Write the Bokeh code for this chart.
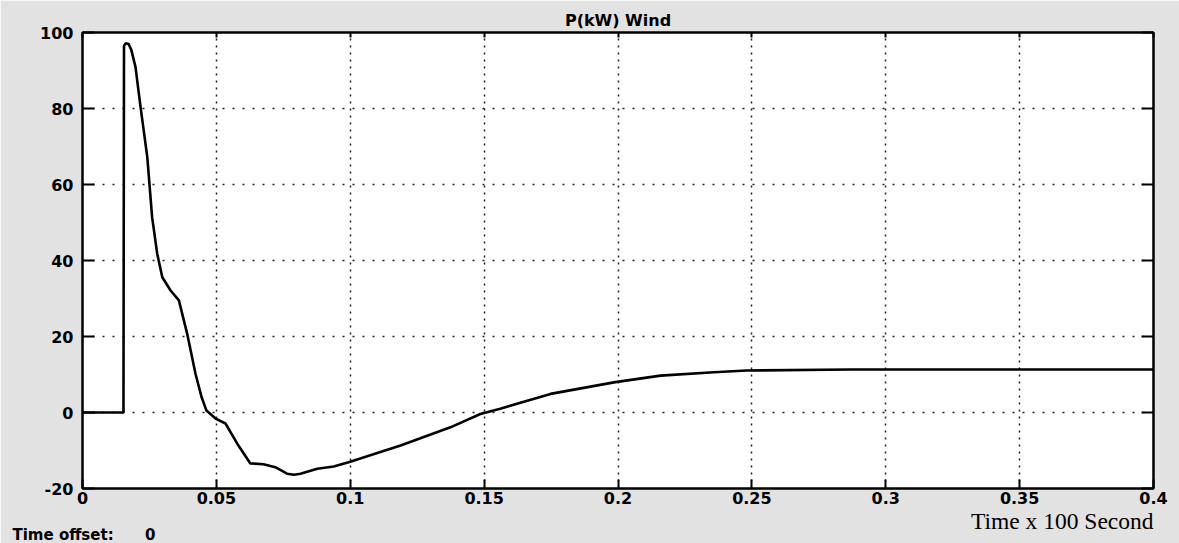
from bokeh.plotting import figure
from bokeh.models import LinearAxis, FixedTicker, Range1d, Title, Grid
from bokeh.embed import file_html
from bokeh.resources import INLINE

# ---- data ----
time_vals = [0, 0.0153, 0.0155, 0.0162, 0.0172, 0.0182, 0.0198, 0.0217, 0.0242, 0.0260,
             0.0279, 0.0298, 0.0329, 0.0360, 0.0391, 0.0422, 0.0445, 0.0463, 0.0497, 0.0534,
             0.0578, 0.0627, 0.0676, 0.0720, 0.0764, 0.0790, 0.0814, 0.0877, 0.0938, 0.0994,
             0.1188, 0.1374, 0.1486, 0.1560, 0.1748, 0.1990, 0.2159, 0.2358, 0.2480, 0.2870,
             0.3500, 0.4000]
power_kw = [0, 0, 96.5, 97.2, 97.0, 95.5, 90.9, 80.3, 67.2, 51.4,
            41.8, 35.6, 32.1, 29.5, 20.7, 10.2, 4.0, 0.5, -1.6, -2.9,
            -8.2, -13.4, -13.6, -14.4, -16.1, -16.4, -16.1, -14.8, -14.2, -13.1,
            -8.7, -3.9, -0.4, 1.0, 4.9, 8.0, 9.7, 10.6, 11.05, 11.3,
            11.3, 11.3]

x_ticks = [0, 0.05, 0.1, 0.15, 0.2, 0.25, 0.3, 0.35, 0.4]
x_tick_labels = ["0", "0.05", "0.1", "0.15", "0.2", "0.25", "0.3", "0.35", "0.4"]
y_ticks = [-20, 0, 20, 40, 60, 80, 100]
y_tick_labels = ["-20", "0", "20", "40", "60", "80", "100"]

title_text = "P(kW) Wind"
xlabel_text = "Time x 100 Second"
offset_text = "Time offset:" + "\u00a0" * 6 + "0"

FONT = "DejaVu Sans"

p = figure(width=1179, height=543, output_backend="svg", toolbar_location=None,
           x_range=Range1d(0, 0.4), y_range=Range1d(-20, 100),
           x_axis_type=None, y_axis_type=None,
           min_border_left=82, min_border_right=26, min_border_top=32, min_border_bottom=55,
           background_fill_color="white", border_fill_color="#e2e2e2")

p.outline_line_color = "black"
p.outline_line_width = 2

def style_axis(ax, tick_len):
    ax.axis_line_color = "black"
    ax.axis_line_width = 2
    ax.major_tick_in = tick_len
    ax.major_tick_out = 0
    ax.major_tick_line_width = 2
    ax.major_tick_line_color = "black"
    ax.minor_tick_line_color = None
    ax.major_label_text_font = FONT
    ax.major_label_text_font_style = "bold"
    ax.major_label_text_font_size = "16px"
    ax.major_label_text_color = "black"

xb = LinearAxis(ticker=FixedTicker(ticks=x_ticks),
                major_label_overrides=dict(zip(x_ticks, x_tick_labels)))
style_axis(xb, 9)
xb.major_label_standoff = 3
p.add_layout(xb, "below")

yl = LinearAxis(ticker=FixedTicker(ticks=y_ticks),
                major_label_overrides=dict(zip(y_ticks, y_tick_labels)))
style_axis(yl, 12)
yl.major_label_standoff = 9
p.add_layout(yl, "left")

xt = LinearAxis(ticker=FixedTicker(ticks=x_ticks),
                major_label_overrides={t: "" for t in x_ticks})
style_axis(xt, 5)
xt.major_label_standoff = 0
p.add_layout(xt, "above")

yr = LinearAxis(ticker=FixedTicker(ticks=y_ticks),
                major_label_overrides={t: "" for t in y_ticks})
style_axis(yr, 12)
yr.major_label_standoff = 0
p.add_layout(yr, "right")

xg = Grid(dimension=0, ticker=FixedTicker(ticks=x_ticks[1:-1]),
          grid_line_color="#222222", grid_line_dash="2 5", grid_line_width=1.5)
yg = Grid(dimension=1, ticker=FixedTicker(ticks=y_ticks[1:-1]),
          grid_line_color="#222222", grid_line_dash="2 8", grid_line_width=1.5)
p.add_layout(xg)
p.add_layout(yg)

p.line(time_vals, power_kw, line_color="black", line_width=2.6)

# title above the frame
p.title.text = title_text
p.title.align = "center"
p.title.text_font = FONT
p.title.text_font_style = "bold"
p.title.text_font_size = "16px"
p.title.text_color = "black"
p.title.standoff = 6
p.title.offset = -6

# caption under the axis, right aligned
cap = Title(text=xlabel_text, align="right", text_font="Liberation Serif",
            text_font_style="normal", text_font_size="23.5px", text_color="black",
            standoff=-1)
p.add_layout(cap, "below")

off = Title(text=offset_text, align="left", text_font=FONT, text_font_style="bold",
            text_font_size="15px", text_color="black", standoff=-20, offset=-70)
p.add_layout(off, "below")

open("out.html", "w").write(file_html(p, INLINE))
